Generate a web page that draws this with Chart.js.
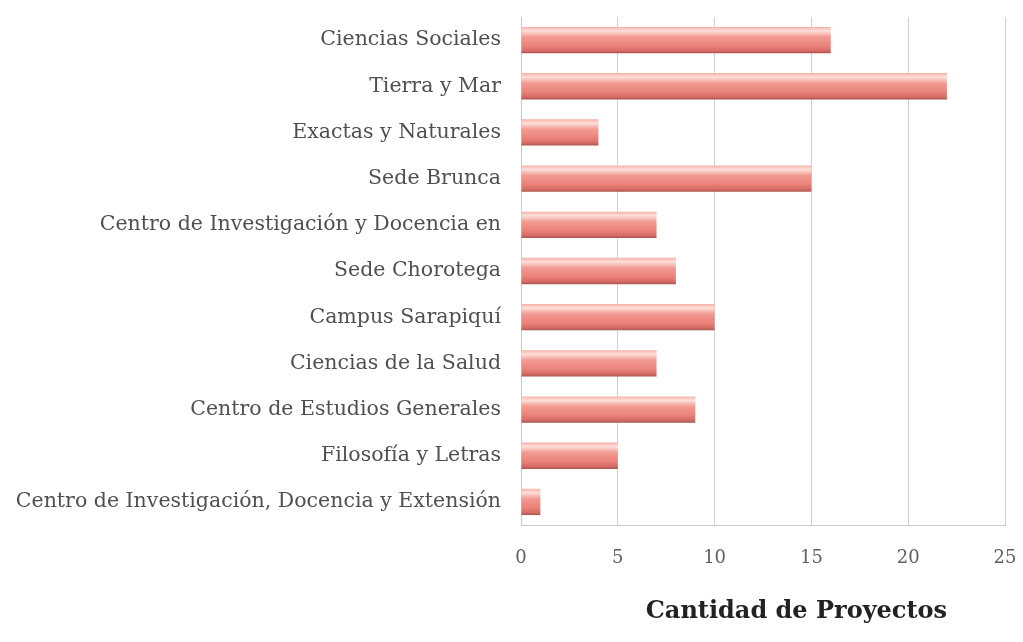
<!DOCTYPE html>
<html>
<head>
<meta charset="utf-8">
<script src="https://cdn.jsdelivr.net/npm/chart.js@4"></script>
<style>
  html, body { margin: 0; padding: 0; background: #fff; }
  #wrap { width: 1023px; height: 642px; }
</style>
</head>
<body>
<div id="wrap"><canvas id="barChart" width="1023" height="642"></canvas></div>
<script>
const categories = [
  'Ciencias Sociales',
  'Tierra y Mar',
  'Exactas y Naturales',
  'Sede Brunca',
  'Centro de Investigación y Docencia en',
  'Sede Chorotega',
  'Campus Sarapiquí',
  'Ciencias de la Salud',
  'Centro de Estudios Generales',
  'Filosofía y Letras',
  'Centro de Investigación, Docencia y Extensión'
];
const proyectos = [16, 22, 4, 15, 7, 8, 10, 7, 9, 5, 1];
const xTicks = [0, 5, 10, 15, 20, 25];
const xTitle = 'Cantidad de Proyectos';

const labelFont = "'DejaVu Serif', 'Liberation Serif', serif";

// vertical shading on each bar, like the 3D-ish office style
const barShade = {
  id: 'barShade',
  beforeDatasetsDraw(chart) {
    const ctx = chart.ctx;
    chart.getDatasetMeta(0).data.forEach((bar) => {
      const top = bar.y - bar.height / 2;
      const bottom = bar.y + bar.height / 2;
      const g = ctx.createLinearGradient(0, top, 0, bottom);
      g.addColorStop(0, '#f5b0a8');
      g.addColorStop(0.15, '#fde0da');
      g.addColorStop(0.38, '#f29a92');
      g.addColorStop(0.72, '#ea827a');
      g.addColorStop(0.9, '#d66c65');
      g.addColorStop(1, '#a9554f');
      bar.options.backgroundColor = g;
    });
  }
};

new Chart(document.getElementById('barChart'), {
  type: 'bar',
  data: {
    labels: categories,
    datasets: [{
      data: proyectos,
      // scriptable so every bar gets its own options object
      backgroundColor: () => '#ec8a80',
      borderWidth: 0,
      barPercentage: 0.57,
      categoryPercentage: 1
    }]
  },
  options: {
    indexAxis: 'y',
    responsive: false,
    animation: false,
    layout: { padding: { top: 17, right: 18, bottom: 0, left: 0 } },
    plugins: {
      legend: { display: false },
      tooltip: { enabled: false }
    },
    scales: {
      x: {
        min: 0,
        max: 25,
        afterBuildTicks(scale) {
          scale.ticks = xTicks.map(v => ({ value: v }));
        },
        afterFit(scale) {
          scale.height = 117;
          scale.paddingLeft = 0;
          scale.paddingRight = 0;
        },
        grid: { color: '#d0d0d0', drawTicks: false },
        border: { color: '#c8c8c8' },
        ticks: {
          padding: 23,
          color: '#606060',
          font: { family: labelFont, size: 18 }
        },
        title: {
          display: true,
          text: '\u00a0'.repeat(8) + xTitle,
          color: '#222',
          font: { family: labelFont, size: 24, weight: 'bold' },
          padding: { top: 0, bottom: 16 }
        }
      },
      y: {
        afterFit(scale) {
          scale.width = 521;
          scale.paddingTop = 0;
          scale.paddingBottom = 0;
        },
        grid: { display: false, drawTicks: false },
        border: { color: '#c8c8c8' },
        ticks: {
          padding: 20,
          color: '#505050',
          font: { family: labelFont, size: 20.5 }
        }
      }
    }
  },
  plugins: [barShade]
});
</script>
</body>
</html>
